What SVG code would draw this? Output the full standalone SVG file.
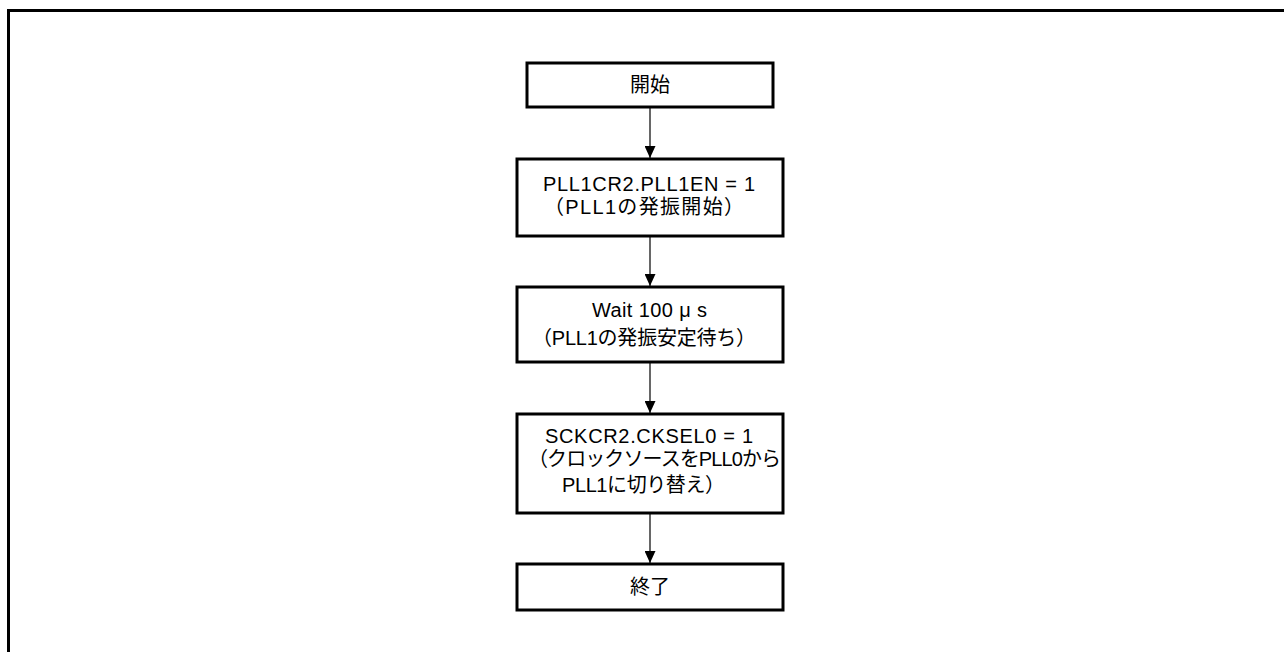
<svg xmlns="http://www.w3.org/2000/svg" width="1284" height="652" viewBox="0 0 1284 652">
<defs>
<style>
.box{fill:#fff;stroke:#000;stroke-width:3}
.t{font-family:"Liberation Sans","Noto Sans CJK JP",sans-serif;font-size:20px;fill:#000}
.m{text-anchor:middle}
.c{stroke:#000;stroke-width:1.2;fill:none;marker-end:url(#ah)}
</style>
<marker id="ah" markerWidth="12" markerHeight="11" refX="12" refY="5.5" orient="auto" markerUnits="userSpaceOnUse">
<path d="M0,0 L12,5.5 L0,11 Z" fill="#000"/>
</marker>
</defs>
<rect width="1284" height="652" fill="#fff"/>
<path d="M8.5,660 V10.5 H1290" fill="none" stroke="#000" stroke-width="3"/>
<g id="connectors">
<line class="c" x1="650" y1="107" x2="650" y2="158"/>
<line class="c" x1="650" y1="236" x2="650" y2="286"/>
<line class="c" x1="650" y1="362" x2="650" y2="413"/>
<line class="c" x1="650" y1="513" x2="650" y2="563"/>
</g>
<g id="start">
<rect class="box" x="527" y="63" width="246" height="44"/>
<text class="t m" x="650" y="92">開始</text>
</g>
<g id="step1">
<rect class="box" x="517" y="159" width="266" height="77"/>
<text class="t" x="543" y="191" textLength="212">PLL1CR2.PLL1EN = 1</text>
<text class="t" x="544" y="214" textLength="200">（PLL1の発振開始）</text>
</g>
<g id="step2">
<rect class="box" x="517" y="287" width="266" height="75"/>
<text class="t" x="592" y="317" textLength="115">Wait 100 μ s</text>
<text class="t" x="532" y="345" textLength="224">（PLL1の発振安定待ち）</text>
</g>
<g id="step3">
<rect class="box" x="517" y="414" width="266" height="99"/>
<text class="t" x="545" y="443" textLength="208">SCKCR2.CKSEL0 = 1</text>
<text class="t" x="528" y="466" textLength="253">（クロックソースをPLL0から</text>
<text class="t" x="562" y="492" textLength="163">PLL1に切り替え）</text>
</g>
<g id="end">
<rect class="box" x="517" y="564" width="266" height="46"/>
<text class="t m" x="650" y="594">終了</text>
</g>
</svg>
